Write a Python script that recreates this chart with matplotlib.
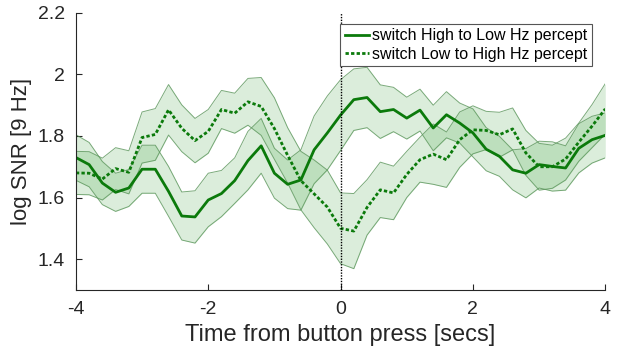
import numpy as np
import matplotlib
matplotlib.use("Agg")
import matplotlib.pyplot as plt
from matplotlib.ticker import FormatStrFormatter

plt.rcParams['font.family'] = ['Liberation Sans', 'DejaVu Sans']
plt.rcParams['axes.unicode_minus'] = False

# time from button press, 0.2 s steps
time = np.linspace(-4, 4, 41)

# switch High to Low Hz percept (mean, sem)
high_to_low = [1.730, 1.707, 1.647, 1.617, 1.631, 1.692, 1.692, 1.620, 1.540, 1.537,
               1.592, 1.613, 1.655, 1.720, 1.768, 1.679, 1.643, 1.657, 1.755, 1.810,
               1.868, 1.918, 1.925, 1.879, 1.886, 1.858, 1.884, 1.826, 1.869, 1.842,
               1.810, 1.757, 1.734, 1.690, 1.679, 1.707, 1.701, 1.696, 1.760, 1.788,
               1.802]
sem_high = [0.074, 0.072, 0.070, 0.062, 0.060, 0.078, 0.078, 0.081, 0.078, 0.085,
            0.087, 0.075, 0.074, 0.095, 0.089, 0.081, 0.079, 0.098, 0.110, 0.120,
            0.115, 0.100, 0.098, 0.087, 0.072, 0.068, 0.068, 0.074, 0.075, 0.065,
            0.078, 0.070, 0.065, 0.065, 0.080, 0.076, 0.080, 0.072, 0.080, 0.076,
            0.073]

# switch Low to High Hz percept (mean, sem)
low_to_high = [1.680, 1.679, 1.660, 1.694, 1.682, 1.795, 1.805, 1.885, 1.825, 1.785,
               1.815, 1.886, 1.874, 1.911, 1.896, 1.824, 1.737, 1.655, 1.612, 1.569,
               1.500, 1.491, 1.568, 1.625, 1.615, 1.675, 1.723, 1.741, 1.723, 1.788,
               1.820, 1.818, 1.804, 1.823, 1.745, 1.700, 1.700, 1.725, 1.780, 1.832,
               1.888]
sem_low = [0.070, 0.070, 0.068, 0.068, 0.070, 0.083, 0.084, 0.082, 0.076, 0.072,
           0.071, 0.062, 0.065, 0.076, 0.094, 0.100, 0.090, 0.095, 0.110, 0.120,
           0.115, 0.122, 0.090, 0.090, 0.087, 0.075, 0.073, 0.098, 0.090, 0.090,
           0.078, 0.062, 0.073, 0.068, 0.073, 0.076, 0.070, 0.068, 0.062, 0.070,
           0.082]

line_col = '#0b7a0b'
fill_col = '#2e9a2e'
edge_col = '#5a955a'

fig = plt.figure(figsize=(6.17, 3.57), dpi=100)
ax = fig.add_axes([0.123, 0.188, 0.858, 0.776])

series = [(high_to_low, sem_high, '-', 'switch High to Low Hz percept'),
          (low_to_high, sem_low, (0, (1.2, 0.8)), 'switch Low to High Hz percept')]

for mean, sem, ls, label in series:
    mean = np.array(mean)
    sem = np.array(sem)
    ax.fill_between(time, mean - sem, mean + sem, color=fill_col, alpha=0.17, lw=0)
    ax.plot(time, mean + sem, color=edge_col, lw=0.7, alpha=0.8)
    ax.plot(time, mean - sem, color=edge_col, lw=0.7, alpha=0.8)

for mean, sem, ls, label in series:
    ax.plot(time, mean, color=line_col, lw=2.0, linestyle=ls, label=label)

ax.axvline(0, color='black', lw=1.0, linestyle=(0, (1, 1)))

ax.set_xlim(-4, 4)
ax.set_ylim(1.3, 2.2)
ax.set_xticks([-4, -2, 0, 2, 4])
ax.set_yticks([1.4, 1.6, 1.8, 2.0, 2.2])
ax.yaxis.set_major_formatter(FormatStrFormatter('%g'))

for side in ['top', 'right']:
    ax.spines[side].set_visible(False)
for side in ['left', 'bottom']:
    ax.spines[side].set_color('#262626')
    ax.spines[side].set_linewidth(0.8)
ax.tick_params(direction='in', length=4, width=0.8, colors='#262626',
               labelsize=14, pad=8)

ax.set_xlabel('Time from button press [secs]', fontsize=17, color='#262626')
ax.set_ylabel('log SNR [9 Hz]', fontsize=16, color='#262626')

leg = ax.legend(loc='upper right', bbox_to_anchor=(0.99, 0.99), fontsize=11.5,
                handlelength=1.5, handletextpad=0.2, borderpad=0.3,
                labelspacing=0.2, frameon=True, fancybox=False)
leg.get_frame().set_edgecolor('#555555')
leg.get_frame().set_linewidth(0.8)
leg.get_frame().set_alpha(1)

fig.savefig('out.png', dpi=100)
